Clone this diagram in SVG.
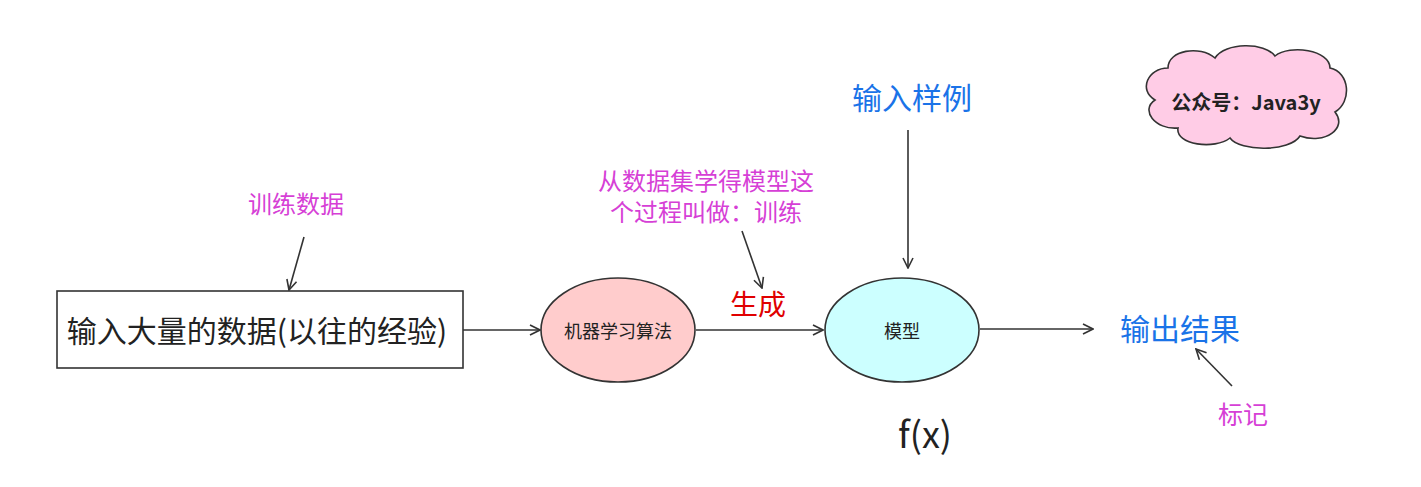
<svg xmlns="http://www.w3.org/2000/svg" width="1421" height="487" viewBox="0 0 1421 487">
<style>
text{font-family:"Noto Sans CJK SC","Noto Sans",sans-serif;text-anchor:middle;dominant-baseline:central}
.c{stroke:#333;stroke-width:1.6;fill:none}
.blue{fill:#1a73e8;font-size:30px}
.mag{fill:#d63fd6}
</style>
<defs>
<marker id="a" viewBox="0 0 12 12" refX="11" refY="6" markerWidth="12" markerHeight="12" markerUnits="userSpaceOnUse" orient="auto">
<path d="M1 1L11 6L1 11" fill="none" stroke="#333" stroke-width="1.6"/>
</marker>
</defs>
<rect width="1421" height="487" fill="#fff"/>
<g id="connectors">
<path class="c" d="M463 330H540" marker-end="url(#a)"/>
<path class="c" d="M696 330H823" marker-end="url(#a)"/>
<path class="c" d="M980 329H1093" marker-end="url(#a)"/>
<path class="c" d="M908 130V268" marker-end="url(#a)"/>
<path class="c" d="M304 237L289 290" marker-end="url(#a)"/>
<path class="c" d="M742 231L762 288" marker-end="url(#a)"/>
<path class="c" d="M1232 386L1196 349" marker-end="url(#a)"/>
</g>
<g id="input">
<rect x="57" y="291" width="406" height="77" fill="#fff" stroke="#333" stroke-width="1.6"/>
<text x="257" y="329" font-size="30" fill="#222">输入大量的数据(以往的经验)</text>
</g>
<g id="algo">
<ellipse cx="618" cy="330" rx="77" ry="52" fill="#ffcccc" stroke="#333" stroke-width="1.6"/>
<text x="618" y="330" font-size="18" fill="#222">机器学习算法</text>
</g>
<g id="model">
<ellipse cx="902" cy="330" rx="77" ry="52" fill="#ccffff" stroke="#333" stroke-width="1.6"/>
<text x="902" y="330" font-size="18" fill="#222">模型</text>
</g>
<g id="output"><text class="blue" x="1180" y="327">输出结果</text></g>
<g id="sample"><text class="blue" x="912" y="96">输入样例</text></g>
<g id="train"><text class="mag" x="296" y="202" font-size="24">训练数据</text></g>
<g id="note">
<text class="mag" x="706" y="179" font-size="24">从数据集学得模型这</text>
<text class="mag" x="706" y="210" font-size="24">个过程叫做：训练</text>
</g>
<g id="gen"><text x="758" y="303" font-size="28" fill="#e00000">生成</text></g>
<g id="fx"><text x="925" y="432" font-size="36" fill="#222" font-family="Liberation Sans,sans-serif">f(x)</text></g>
<g id="label"><text class="mag" x="1243" y="413" font-size="25">标记</text></g>
<g id="cloud">
<path d="M1168 68C1168 50 1200 45 1215 58C1225 42 1265 42 1275 56C1290 44 1330 50 1330 68C1350 72 1352 102 1335 112C1348 128 1325 145 1300 136C1290 152 1240 152 1230 138C1215 150 1175 145 1178 128C1155 130 1140 110 1155 100C1138 90 1148 68 1168 68Z" fill="#ffcce6" stroke="#333" stroke-width="1.6"/>
<text x="1246" y="101" font-size="20" font-weight="bold" fill="#222">公众号：Java3y</text>
</g>
</svg>
